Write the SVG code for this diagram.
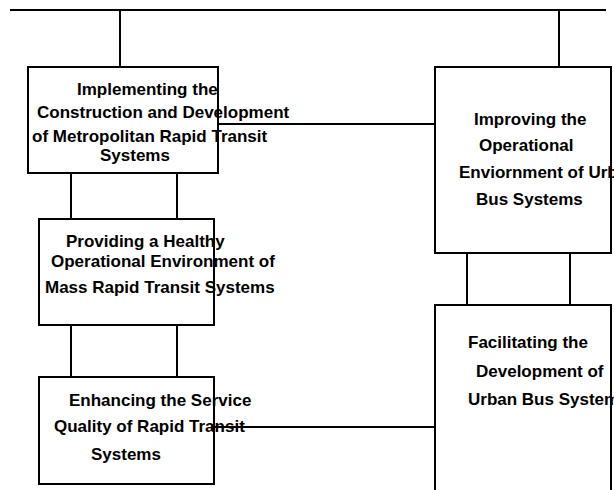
<svg xmlns="http://www.w3.org/2000/svg" width="614" height="490" viewBox="0 0 614 490">
<style>
.box{fill:#fff;stroke:#000;stroke-width:2}
.ln{stroke:#000;stroke-width:2;fill:none}
text{font-family:"Liberation Sans",Arial,sans-serif;font-weight:bold;font-size:17px;fill:#000}
</style>
<rect width="614" height="490" fill="#fff"/>
<g id="connectors">
<line class="ln" x1="10" y1="10" x2="606" y2="10"/>
<line class="ln" x1="120" y1="10" x2="120" y2="67"/>
<line class="ln" x1="559" y1="10" x2="559" y2="67"/>
<line class="ln" x1="218" y1="124" x2="436" y2="124"/>
<line class="ln" x1="71" y1="173" x2="71" y2="219"/>
<line class="ln" x1="177" y1="173" x2="177" y2="219"/>
<line class="ln" x1="71" y1="325" x2="71" y2="377"/>
<line class="ln" x1="177" y1="325" x2="177" y2="377"/>
<line class="ln" x1="214" y1="427" x2="436" y2="427"/>
<line class="ln" x1="467" y1="253" x2="467" y2="305"/>
<line class="ln" x1="570" y1="253" x2="570" y2="305"/>
</g>
<g id="n1">
<rect class="box" x="28" y="67" width="190" height="106"/>
<text x="77" y="95">Implementing the</text>
<text x="37" y="118">Construction and Development</text>
<text x="32" y="142">of Metropolitan Rapid Transit</text>
<text x="100" y="161">Systems</text>
</g>
<g id="n2">
<rect class="box" x="39" y="219" width="175" height="106"/>
<text x="66" y="247">Providing a Healthy</text>
<text x="51" y="267">Operational Environment of</text>
<text x="45" y="293">Mass Rapid Transit Systems</text>
</g>
<g id="n3">
<rect class="box" x="39" y="377" width="175" height="107"/>
<text x="69" y="406">Enhancing the Service</text>
<text x="54" y="432">Quality of Rapid Transit</text>
<text x="91" y="460">Systems</text>
</g>
<g id="n4">
<rect class="box" x="435" y="67" width="176" height="186"/>
<text x="474" y="125">Improving the</text>
<text x="479" y="151">Operational</text>
<text x="459" y="178">Enviornment of Urban</text>
<text x="476" y="205">Bus Systems</text>
</g>
<g id="n5">
<path class="ln" d="M435 492 V305 H611 V492"/>
<text x="468" y="348">Facilitating the</text>
<text x="476" y="377">Development of</text>
<text x="468" y="405">Urban Bus Systems</text>
</g>
</svg>
